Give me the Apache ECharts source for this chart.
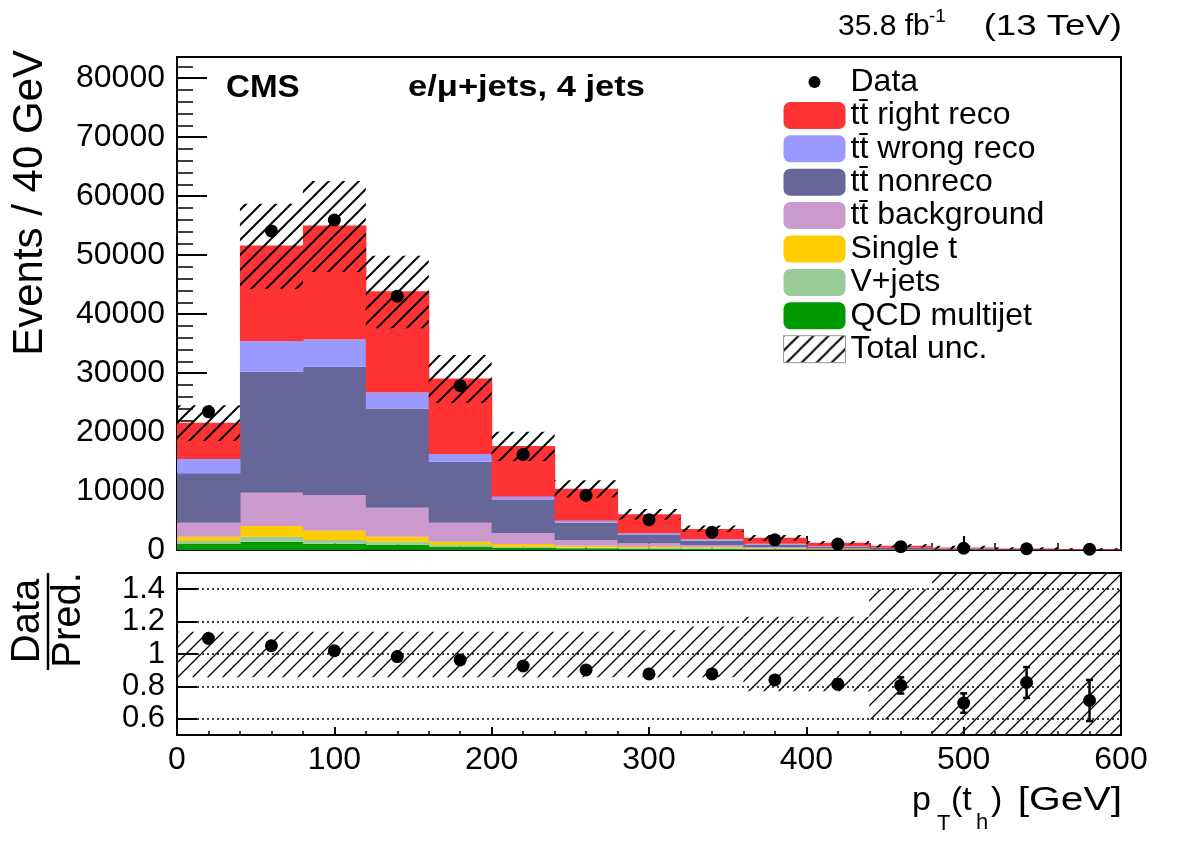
<!DOCTYPE html>
<html lang="en">
<head>
    <meta charset="utf-8">
    <title>pT(th) 4 jets</title>
    <script type="text/javascript" src="https://cdn.jsdelivr.net/npm/echarts@6/dist/echarts.min.js"></script>
    <style>
        html, body { margin: 0; padding: 0; background: #fff; }
        #main { width: 1182px; height: 848px; }
    </style>
</head>
<body>
<div id="main"></div>
<script>
    // bins of 40 GeV
    var binLow = [0, 40, 80, 120, 160, 200, 240, 280, 320, 360, 400, 440, 480, 520, 560];
    var binWidth = 40;

    // stacked predictions (events / 40 GeV)
    var ttRightReco  = [6160, 16220, 19320, 17170, 12830, 8590, 5420, 3220, 1750, 1000, 600, 330, 200, 120, 80];
    var ttWrongReco  = [2420, 5200, 4640, 2720, 1300, 560, 340, 290, 230, 130, 80, 50, 30, 20, 12];
    var ttNonReco    = [8370, 20510, 21750, 16840, 10340, 5650, 2930, 1410, 730, 420, 250, 150, 100, 60, 45];
    var ttBackground = [2370, 5650, 6040, 4910, 3220, 1810, 970, 570, 390, 230, 140, 80, 45, 25, 20];
    var singleTop    = [740, 1810, 1580, 850, 560, 460, 300, 230, 180, 120, 70, 40, 25, 15, 10];
    var vJets        = [500, 850, 650, 500, 300, 200, 150, 110, 90, 60, 40, 25, 15, 10, 6];
    var qcdMultijet  = [1025, 1400, 1050, 900, 550, 360, 280, 220, 190, 100, 60, 35, 20, 12, 8];

    var dataEvents = [23450, 54100, 55950, 43050, 27850, 16200, 9250, 5150, 3030, 1730, 1010, 570, 300, 215, 130];

    // relative total uncertainty (up / down)
    var uncUp   = [0.137, 0.137, 0.137, 0.137, 0.137, 0.137, 0.137, 0.147, 0.17, 0.23, 0.23, 0.40, 0.7, 0.7, 0.7];
    var uncDown = [0.143, 0.143, 0.143, 0.143, 0.143, 0.143, 0.143, 0.143, 0.143, 0.23, 0.23, 0.405, 0.7, 0.7, 0.7];

    // ratio panel
    var ratioVals = [1.096, 1.051, 1.020, 0.984, 0.963, 0.926, 0.902, 0.877, 0.877, 0.840, 0.814, 0.806, 0.697, 0.824, 0.713];
    var ratioErr  = [0.007, 0.005, 0.005, 0.005, 0.006, 0.008, 0.010, 0.013, 0.017, 0.022, 0.030, 0.050, 0.060, 0.095, 0.127];
    var ratioTicks = [0.6, 0.8, 1.0, 1.2, 1.4];

    var FONT = '"Liberation Sans", Arial, Helvetica, sans-serif';

    // hatch pattern like ROOT 3004
    function makeHatch(lw) {
        var c = document.createElement('canvas');
        c.width = 15; c.height = 15;
        var ctx = c.getContext('2d');
        ctx.strokeStyle = '#000';
        ctx.lineWidth = lw;
        ctx.beginPath();
        ctx.moveTo(-2, 17); ctx.lineTo(17, -2);
        ctx.moveTo(-2, 2); ctx.lineTo(2, -2);
        ctx.moveTo(13, 17); ctx.lineTo(17, 13);
        ctx.stroke();
        return c;
    }
    var hatchTop = {image: makeHatch(2), repeat: 'repeat'};
    var hatchRatio = {image: makeHatch(1.3), repeat: 'repeat'};

    // stack from bottom to top
    var layers = [
        {name: 'QCD multijet', color: '#009900', vals: qcdMultijet},
        {name: 'V+jets', color: '#99cc99', vals: vJets},
        {name: 'Single t', color: '#ffcc00', vals: singleTop},
        {name: 'tt\u0304 background', color: '#cc99cc', vals: ttBackground},
        {name: 'tt\u0304 nonreco', color: '#666699', vals: ttNonReco},
        {name: 'tt\u0304 wrong reco', color: '#9999ff', vals: ttWrongReco},
        {name: 'tt\u0304 right reco', color: '#ff3333', vals: ttRightReco}
    ];

    function boxItem(fill, extra) {
        return function (params, api) {
            var p0 = api.coord([api.value(0), api.value(3)]);
            var p1 = api.coord([api.value(1), api.value(2)]);
            return {
                type: 'rect',
                shape: {x: p0[0], y: p0[1], width: p1[0] - p0[0] + (extra || 0), height: p1[1] - p0[1]},
                style: {fill: fill, stroke: null}
            };
        };
    }

    var series = [];
    var base = binLow.map(function () { return 0; });
    layers.forEach(function (l) {
        var rows = binLow.map(function (lo, i) {
            var r = [lo, lo + binWidth, base[i], base[i] + l.vals[i]];
            base[i] += l.vals[i];
            return r;
        });
        series.push({
            type: 'custom', name: l.name, xAxisIndex: 0, yAxisIndex: 0,
            data: rows, encode: {x: [0, 1], y: [2, 3]},
            itemStyle: {color: l.color}, silent: true, clip: true,
            renderItem: boxItem(l.color, 0.6)
        });
    });
    var total = base.slice();

    // total uncertainty band on top panel
    series.push({
        type: 'custom', name: 'Total unc.', xAxisIndex: 0, yAxisIndex: 0,
        data: binLow.map(function (lo, i) {
            return [lo, lo + binWidth, total[i] * (1 - uncDown[i]), total[i] * (1 + uncUp[i])];
        }),
        encode: {x: [0, 1], y: [2, 3]},
        itemStyle: {color: hatchTop}, silent: true, clip: true,
        renderItem: boxItem(hatchTop, 0)
    });

    series.push({
        type: 'scatter', name: 'Data', xAxisIndex: 0, yAxisIndex: 0,
        data: binLow.map(function (lo, i) { return [lo + binWidth / 2, dataEvents[i]]; }),
        symbol: 'circle', symbolSize: 13, itemStyle: {color: '#000', opacity: 1}, z: 5, silent: true
    });

    // ratio panel
    series.push({
        type: 'custom', name: 'ratio band', xAxisIndex: 1, yAxisIndex: 1,
        data: binLow.map(function (lo, i) { return [lo, lo + binWidth, 1 - uncDown[i], 1 + uncUp[i]]; }),
        encode: {x: [0, 1], y: [2, 3]}, silent: true, clip: true,
        renderItem: boxItem(hatchRatio, 0),
        markLine: {
            silent: true, symbol: 'none', label: {show: false},
            lineStyle: {color: '#000', type: [2, 3], width: 1.6},
            data: ratioTicks.map(function (v) { return {yAxis: v}; })
        }
    });
    series.push({
        type: 'custom', name: 'ratio err', xAxisIndex: 1, yAxisIndex: 1,
        data: binLow.map(function (lo, i) { return [lo + binWidth / 2, ratioVals[i], ratioErr[i]]; }),
        encode: {x: 0, y: 1}, silent: true, z: 4,
        renderItem: function (params, api) {
            var x = api.value(0), y = api.value(1), e = api.value(2);
            var t = api.coord([x, y + e]), b = api.coord([x, y - e]);
            var st = {stroke: '#000', lineWidth: 2.5};
            return {type: 'group', children: [
                {type: 'line', shape: {x1: t[0], y1: t[1], x2: b[0], y2: b[1]}, style: st},
                {type: 'line', shape: {x1: t[0] - 3.5, y1: t[1], x2: t[0] + 3.5, y2: t[1]}, style: st},
                {type: 'line', shape: {x1: b[0] - 3.5, y1: b[1], x2: b[0] + 3.5, y2: b[1]}, style: st}
            ]};
        }
    });
    series.push({
        type: 'scatter', name: 'ratio', xAxisIndex: 1, yAxisIndex: 1,
        data: binLow.map(function (lo, i) { return [lo + binWidth / 2, ratioVals[i]]; }),
        symbol: 'circle', symbolSize: 13, itemStyle: {color: '#000', opacity: 1}, z: 5, silent: true
    });

    // legend icons
    var dotIcon = 'path://M0 0 M62 27 M25 13.5 a6 6 0 1 0 12 0 a6 6 0 1 0 -12 0 z';
    var legendData = [{name: 'Data', icon: dotIcon, itemStyle: {color: '#000'}}];
    layers.slice().reverse().forEach(function (l) {
        legendData.push({name: l.name, icon: 'roundRect', itemStyle: {color: l.color}});
    });
    legendData.push({name: 'Total unc.', icon: 'rect', itemStyle: {color: hatchTop, borderColor: '#999', borderWidth: 1}});

    var axisLineStyle = {color: '#000', width: 2};

    // text helpers for the ROOT-like titles
    function txt(x, y, s, size, opt) {
        opt = opt || {};
        return {
            type: 'text', x: x, y: y, rotation: opt.rot || 0, scaleX: opt.sx || 1, silent: true,
            style: {
                text: s, fill: '#000', font: (opt.bold ? 'bold ' : '') + size + 'px ' + FONT,
                textAlign: opt.align || 'left', textVerticalAlign: 'middle'
            }
        };
    }

    var graphics = [
        txt(30, 50, 'Events / 40 GeV', 42, {rot: Math.PI / 2, align: 'right'}),
        txt(28, 621, 'Data', 40, {rot: Math.PI / 2, align: 'center'}),
        {type: 'line', silent: true, shape: {x1: 48, y1: 573, x2: 48, y2: 670}, style: {stroke: '#000', lineWidth: 2.5}},
        txt(69, 620, 'Pred.', 40, {rot: Math.PI / 2, align: 'center'}),
        txt(226, 88, 'CMS', 31, {bold: true, sx: 1.07}),
        txt(408, 88, 'e/\u03bc+jets, 4 jets', 30, {bold: true, sx: 1.15}),
        txt(838, 27, '35.8 fb', 30),
        txt(929, 17, '-1', 19),
        txt(1122, 27, '(13 TeV)', 30, {align: 'right', sx: 1.22}),
        txt(912, 801, 'p', 34),
        txt(937, 824, 'T', 22),
        txt(951, 801, '(t', 34),
        txt(976, 823, 'h', 22),
        txt(991, 801, ')', 34),
        txt(1122, 801, '[GeV]', 34, {align: 'right', sx: 1.2})
    ];

    var option = {
        backgroundColor: '#fff',
        animation: false,
        textStyle: {fontFamily: FONT},
        grid: [
            {left: 177, right: 61, top: 57, height: 493, show: true, borderColor: '#000', borderWidth: 2, backgroundColor: 'transparent'},
            {left: 177, right: 61, top: 573, height: 162, show: true, borderColor: '#000', borderWidth: 2, backgroundColor: 'transparent'}
        ],
        legend: {
            data: legendData, orient: 'vertical', left: 778, top: 61,
            itemWidth: 62, itemHeight: 27, itemGap: 1.4, selectedMode: false,
            textStyle: {fontSize: 32, color: '#000', fontFamily: FONT, lineHeight: 27}
        },
        xAxis: [
            {
                type: 'value', gridIndex: 0, min: 0, max: 600, interval: 100,
                axisLine: {lineStyle: axisLineStyle},
                axisTick: {inside: true, length: 14, lineStyle: {color: '#000', width: 2}},
                minorTick: {show: true, splitNumber: 5, length: 7, lineStyle: {color: '#000', width: 1.5}},
                axisLabel: {show: false}, splitLine: {show: false}
            },
            {
                type: 'value', gridIndex: 1, min: 0, max: 600, interval: 100,
                axisLine: {lineStyle: axisLineStyle},
                axisTick: {inside: true, length: 8, lineStyle: {color: '#000', width: 2}},
                minorTick: {show: true, splitNumber: 5, length: 4, lineStyle: {color: '#000', width: 1.5}},
                axisLabel: {fontSize: 32, color: '#000', margin: 9, fontFamily: FONT},
                splitLine: {show: false}
            }
        ],
        yAxis: [
            {
                type: 'value', gridIndex: 0, min: 0, max: 83600, interval: 10000,
                axisLine: {lineStyle: axisLineStyle},
                axisTick: {inside: true, length: 30, lineStyle: {color: '#000', width: 2}},
                minorTick: {show: true, splitNumber: 5, length: 16, lineStyle: {color: '#000', width: 1.5}},
                axisLabel: {
                    fontSize: 32, color: '#000', margin: 12, fontFamily: FONT, showMaxLabel: false,
                    formatter: function (v) { return String(v); }
                },
                splitLine: {show: false}
            },
            {
                type: 'value', gridIndex: 1, min: 0.5, max: 1.5,
                axisLine: {lineStyle: axisLineStyle},
                axisTick: {inside: true, length: 20, customValues: ratioTicks, lineStyle: {color: '#000', width: 2}},
                axisLabel: {fontSize: 31, color: '#000', margin: 12, fontFamily: FONT, customValues: ratioTicks},
                splitLine: {show: false}
            }
        ],
        graphic: graphics,
        series: series
    };

    var myChart = echarts.init(document.getElementById('main'), null, {renderer: 'canvas'});
    myChart.setOption(option);
</script>
</body>
</html>
